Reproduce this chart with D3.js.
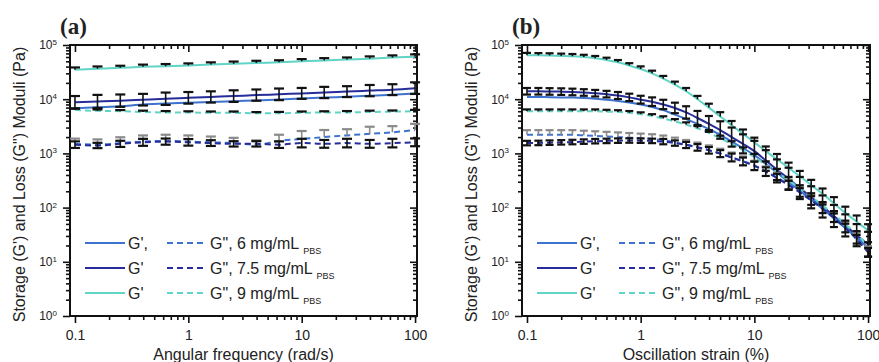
<!DOCTYPE html>
<html>
<head>
<meta charset="utf-8">
<script src="https://cdn.jsdelivr.net/npm/d3@7"></script>
<style>
  body { margin: 0; background: #fff; }
  svg { display: block; }
  text { font-family: Arial, "Liberation Sans", sans-serif; fill: #222; }
</style>
</head>
<body>
<div id="chart"></div>
<script>
// x values
const freq = [0.1, 0.158, 0.251, 0.398, 0.631, 1, 1.58, 2.51, 3.98, 6.31, 10, 15.8, 25.1, 39.8, 63.1, 100];
const strain = [0.1, 0.126, 0.158, 0.2, 0.251, 0.316, 0.398, 0.501, 0.631, 0.794, 1, 1.26, 1.58, 2, 2.51, 3.16,
  3.98, 5.01, 6.31, 7.94, 10, 12.6, 15.8, 20, 25.1, 31.6, 39.8, 50.1, 63.1, 79.4, 100];

// (a) frequency sweep, Pa
const gp6A   = [6800, 7100, 7400, 8000, 8300, 8600, 8900, 9200, 9500, 9900, 10300, 10700, 11100, 11600, 12100, 12700];
const gp75A  = [8800, 9100, 9400, 9800, 10200, 10600, 11000, 11400, 11900, 12300, 12800, 13300, 13800, 14400, 15000, 16000];
const gp9A   = [35000, 36500, 38000, 39500, 40500, 42000, 43500, 45000, 46500, 48000, 50000, 52000, 54000, 56000, 58500, 61000];
const gpp6A  = [1500, 1450, 1550, 1650, 1700, 1650, 1600, 1550, 1450, 1700, 1850, 2000, 2150, 2300, 2450, 2700];
const gpp75A = [1450, 1400, 1500, 1600, 1650, 1600, 1550, 1500, 1500, 1450, 1550, 1500, 1550, 1500, 1550, 1600];
const gpp9A  = [6300, 6100, 6000, 5800, 5700, 5700, 5600, 5600, 5500, 5500, 5600, 5700, 5700, 5800, 5900, 6000];

// (a) relative errors
const eGp75A  = [0.3, 0.32, 0.3, 0.28, 0.3, 0.28, 0.27, 0.28, 0.27, 0.28, 0.26, 0.27, 0.26, 0.27, 0.26, 0.28];
const eGp9A   = [0.1, 0.1, 0.09, 0.1, 0.1, 0.09, 0.1, 0.1, 0.1, 0.09, 0.1, 0.1, 0.09, 0.1, 0.1, 0.1];
const eGpp6A  = [0.25, 0.25, 0.28, 0.3, 0.3, 0.3, 0.28, 0.25, 0.2, 0.3, 0.4, 0.35, 0.3, 0.35, 0.3, 0.3];
const eGpp75A = [0.15, 0.12, 0.14, 0.16, 0.14, 0.15, 0.13, 0.12, 0.12, 0.15, 0.2, 0.18, 0.2, 0.18, 0.2, 0.18];
const eGpp9A  = [0.06, 0.06, 0.05, 0.06, 0.06, 0.05, 0.06, 0.06, 0.05, 0.06, 0.06, 0.05, 0.06, 0.06, 0.05, 0.06];

// (b) strain sweep, Pa
const gp9B   = [65000, 64500, 64000, 63000, 62000, 60000, 57000, 53000, 48000, 42000, 36000, 30000, 24000, 18500, 14000, 10000,
  7000, 4800, 3300, 2300, 1600, 1100, 780, 540, 380, 260, 180, 120, 80, 55, 38];
const gp75B  = [14000, 14000, 13900, 13800, 13600, 13300, 12900, 12400, 11700, 10800, 9800, 9000, 8000, 6900, 5700, 4500,
  3500, 2700, 2000, 1500, 1100, 740, 500, 340, 230, 155, 105, 70, 47, 31, 21];
const gp6B   = [11000, 11000, 10900, 10800, 10700, 10500, 10200, 9800, 9300, 8700, 8000, 7200, 6300, 5200, 4300, 3500,
  2800, 2200, 1650, 1250, 930, 640, 440, 300, 205, 140, 95, 63, 42, 28, 18];
const gpp9B  = [6000, 6000, 6000, 6000, 6000, 6000, 6000, 5900, 5800, 5600, 5300, 4900, 4400, 3900, 3400, 2900,
  2400, 1900, 1500, 1150, 850, 620, 450, 320, 225, 160, 110, 75, 50, 32, 20];
const gpp6B  = [2200, 2200, 2200, 2200, 2200, 2150, 2100, 2050, 2000, 1950, 1900, 1850, 1750, 1600, 1450, 1300,
  1150, 1000, 850, 720, 600, 470, 360, 270, 195, 140, 100, 70, 45, 28, 16];
const gpp75B = [1550, 1560, 1580, 1600, 1620, 1650, 1680, 1700, 1720, 1730, 1720, 1700, 1650, 1550, 1430, 1290,
  1140, 990, 840, 710, 590, 460, 350, 260, 190, 135, 95, 65, 42, 26, 15];

// (b) relative errors
const eGp9B   = [0.1, 0.1, 0.1, 0.1, 0.1, 0.1, 0.1, 0.1, 0.1, 0.1, 0.12, 0.12, 0.12, 0.14, 0.15, 0.15,
  0.18, 0.2, 0.2, 0.2, 0.22, 0.22, 0.25, 0.25, 0.25, 0.25, 0.25, 0.3, 0.3, 0.3, 0.3];
const eGp75B  = [0.15, 0.15, 0.15, 0.15, 0.15, 0.15, 0.15, 0.15, 0.16, 0.17, 0.18, 0.2, 0.22, 0.25, 0.3, 0.35,
  0.4, 0.45, 0.5, 0.5, 0.55, 0.55, 0.55, 0.6, 0.6, 0.6, 0.6, 0.6, 0.6, 0.6, 0.7];
const eGpp9B  = [0.08, 0.08, 0.08, 0.08, 0.08, 0.08, 0.08, 0.08, 0.08, 0.08, 0.08, 0.08, 0.1, 0.1, 0.1, 0.1,
  0.12, 0.12, 0.12, 0.12, 0.15, 0.15, 0.15, 0.15, 0.15, 0.15, 0.15, 0.15, 0.15, 0.15, 0.15];
const eGpp6B  = [0.22, 0.22, 0.22, 0.22, 0.22, 0.22, 0.22, 0.22, 0.22, 0.22, 0.22, 0.22, 0.22, 0.22, 0.22, 0.22,
  0.22, 0.22, 0.22, 0.22, 0.22, 0.22, 0.22, 0.22, 0.22, 0.22, 0.22, 0.22, 0.22, 0.22, 0.22];
const eGpp75B = [0.1, 0.1, 0.1, 0.1, 0.1, 0.1, 0.1, 0.1, 0.1, 0.1, 0.1, 0.1, 0.12, 0.12, 0.14, 0.15,
  0.15, 0.16, 0.18, 0.18, 0.2, 0.2, 0.2, 0.2, 0.2, 0.2, 0.2, 0.2, 0.2, 0.2, 0.2];

const xTickLabels = ['0.1', '1', '10', '100'];
const yTickExps = [0, 1, 2, 3, 4, 5];
const legendRows = [
  { gp: "G',", gpp: 'G", 6 mg/mL' },
  { gp: "G'", gpp: 'G", 7.5 mg/mL' },
  { gp: "G'", gpp: 'G", 9 mg/mL' }
];

const blue = '#3d72cf', navy = '#262d9a', turq = '#60d4c6';
const W = 879, H = 362;

const svg = d3.select('#chart').append('svg').attr('width', W).attr('height', H);

function makeSeries(xs, gp6, gp75, gp9, gpp6, gpp75, gpp9, e) {
  const pts = (arr) => arr.map((v, i) => ({ x: xs[i], y: v }));
  return [
    { color: blue, dash: null, pts: pts(gp6) },
    { color: navy, dash: null, pts: pts(gp75), err: e.gp75, errColor: '#111', dir: 'both' },
    { color: turq, dash: null, pts: pts(gp9), err: e.gp9, errColor: '#111', dir: 'up' },
    { color: blue, dash: '6,4', pts: pts(gpp6), err: e.gpp6, errColor: '#8a8a8a', dir: 'up' },
    { color: navy, dash: '6,4', pts: pts(gpp75), err: e.gpp75, errColor: '#111', dir: 'both' },
    { color: turq, dash: '6,4', pts: pts(gpp9), err: e.gpp9, errColor: '#111', dir: 'up' }
  ];
}

const panels = [
  {
    tag: '(a)', left: 70, right: 417, xTitle: 'Angular frequency (rad/s)',
    series: makeSeries(freq, gp6A, gp75A, gp9A, gpp6A, gpp75A, gpp9A,
      { gp75: eGp75A, gp9: eGp9A, gpp6: eGpp6A, gpp75: eGpp75A, gpp9: eGpp9A }),
    capW: 5
  },
  {
    tag: '(b)', left: 522, right: 870, xTitle: 'Oscillation strain (%)',
    series: makeSeries(strain, gp6B, gp75B, gp9B, gpp6B, gpp75B, gpp9B,
      { gp75: eGp75B, gp9: eGp9B, gpp6: eGpp6B, gpp75: eGpp75B, gpp9: eGpp9B }),
    capW: 4
  }
];

const plotTop = 45, plotBottom = 316;

panels.forEach(p => {
  const g = svg.append('g');
  const x = d3.scaleLog().domain([0.0904, 104]).range([p.left, p.right]);
  const y = d3.scaleLog().domain([1, 1e5]).range([plotBottom, plotTop]);

  const xMajor = [0.1, 1, 10, 100];
  const xMinor = [];
  [0.1, 1, 10].forEach(d => { for (let k = 2; k <= 9; k++) xMinor.push(d * k); });
  const yMajor = yTickExps.map(e => Math.pow(10, e));
  const yMinor = [];
  yMajor.slice(0, -1).forEach(d => { for (let k = 2; k <= 9; k++) yMinor.push(d * k); });

  // axes: bottom/left outward, top/right mirrored inward
  const axes = g.append('g').attr('class', 'axes');
  axes.append('g').attr('transform', `translate(0,${plotBottom})`)
    .call(d3.axisBottom(x).tickValues(xMinor).tickSize(4).tickFormat(''));
  axes.append('g').attr('transform', `translate(0,${plotBottom})`)
    .call(d3.axisBottom(x).tickValues(xMajor).tickSize(7).tickPadding(7)
      .tickFormat((d, i) => xTickLabels[i]));
  axes.append('g').attr('transform', `translate(0,${plotTop})`)
    .call(d3.axisBottom(x).tickValues(xMinor).tickSize(4).tickFormat(''));
  axes.append('g').attr('transform', `translate(0,${plotTop})`)
    .call(d3.axisBottom(x).tickValues(xMajor).tickSize(7).tickFormat(''));
  axes.append('g').attr('transform', `translate(${p.left},0)`)
    .call(d3.axisLeft(y).tickValues(yMinor).tickSize(4).tickFormat(''));
  const yl = axes.append('g').attr('transform', `translate(${p.left},0)`)
    .call(d3.axisLeft(y).tickValues(yMajor).tickSize(7).tickPadding(6).tickFormat(() => '10'));
  axes.append('g').attr('transform', `translate(${p.right},0)`)
    .call(d3.axisLeft(y).tickValues(yMinor).tickSize(4).tickFormat(''));
  axes.append('g').attr('transform', `translate(${p.right},0)`)
    .call(d3.axisLeft(y).tickValues(yMajor).tickSize(7).tickFormat(''));

  axes.selectAll('.domain').remove();
  axes.selectAll('.tick line').attr('stroke', '#111').attr('stroke-width', 1.6);
  axes.selectAll('.tick text').attr('font-size', 14).attr('fill', '#222')
    .style('font-family', 'Arial, "Liberation Sans", sans-serif');

  // superscript exponents on y labels
  yl.selectAll('.tick text').attr('font-size', 12).each(function (d, i) {
    d3.select(this).append('tspan').attr('dy', '-0.55em').attr('font-size', 8).text(yTickExps[i]);
  });

  g.append('rect')
    .attr('x', p.left).attr('y', plotTop)
    .attr('width', p.right - p.left).attr('height', plotBottom - plotTop)
    .attr('fill', 'none').attr('stroke', '#111').attr('stroke-width', 2);

  // lines
  const line = d3.line().x(d => x(d.x)).y(d => y(d.y)).curve(d3.curveMonotoneX);
  p.series.forEach(s => {
    g.append('path').datum(s.pts)
      .attr('d', line)
      .attr('fill', 'none')
      .attr('stroke', s.color)
      .attr('stroke-width', 2)
      .attr('stroke-dasharray', s.dash);
  });

  // error bars
  p.series.filter(s => s.err).forEach(s => {
    const eb = g.append('g').attr('stroke', s.errColor).attr('stroke-width', 1.6);
    s.pts.forEach((d, i) => {
      const e = s.err[i];
      const cx = x(d.x);
      const yu = y(d.y * (1 + e));
      const yd = s.dir === 'both' ? y(d.y / (1 + e)) : y(d.y);
      eb.append('line').attr('x1', cx).attr('x2', cx).attr('y1', yu).attr('y2', yd);
      eb.append('line').attr('x1', cx - p.capW).attr('x2', cx + p.capW).attr('y1', yu).attr('y2', yu)
        .attr('stroke-width', 2.2);
      if (s.dir === 'both') {
        eb.append('line').attr('x1', cx - p.capW).attr('x2', cx + p.capW).attr('y1', yd).attr('y2', yd)
          .attr('stroke-width', 2.2);
      }
    });
  });

  // legend
  const lx = p.left + 15;
  legendRows.forEach((r, i) => {
    const ly = 243 + i * 25;
    const gp = p.series[i], gpp = p.series[i + 3];
    g.append('line').attr('x1', lx).attr('x2', lx + 40).attr('y1', ly).attr('y2', ly)
      .attr('stroke', gp.color).attr('stroke-width', 2);
    g.append('text').attr('x', lx + 43).attr('y', ly + 6).attr('font-size', 16).text(r.gp);
    g.append('line').attr('x1', lx + 82).attr('x2', lx + 122).attr('y1', ly).attr('y2', ly)
      .attr('stroke', gpp.color).attr('stroke-width', 2).attr('stroke-dasharray', '6,4');
    const t = g.append('text').attr('x', lx + 125).attr('y', ly + 6).attr('font-size', 16).text(r.gpp);
    t.append('tspan').attr('dx', 4).attr('dy', 5).attr('font-size', 9).text('PBS');
  });

  // titles
  g.append('text')
    .attr('x', (p.left + p.right) / 2).attr('y', 360)
    .attr('text-anchor', 'middle').attr('font-size', 16)
    .text(p.xTitle);
  g.append('text')
    .attr('transform', `translate(${p.left - 51},${(plotTop + plotBottom) / 2 + 4}) rotate(-90)`)
    .attr('text-anchor', 'middle').attr('dominant-baseline', 'central').attr('font-size', 16)
    .text('Storage (G\') and Loss (G") Moduli (Pa)');
  g.append('text')
    .attr('x', p.left - 10).attr('y', 34)
    .attr('font-size', 23).attr('font-weight', 'bold')
    .style('font-family', '"Liberation Serif", "DejaVu Serif", serif')
    .text(p.tag);
});
</script>
</body>
</html>
